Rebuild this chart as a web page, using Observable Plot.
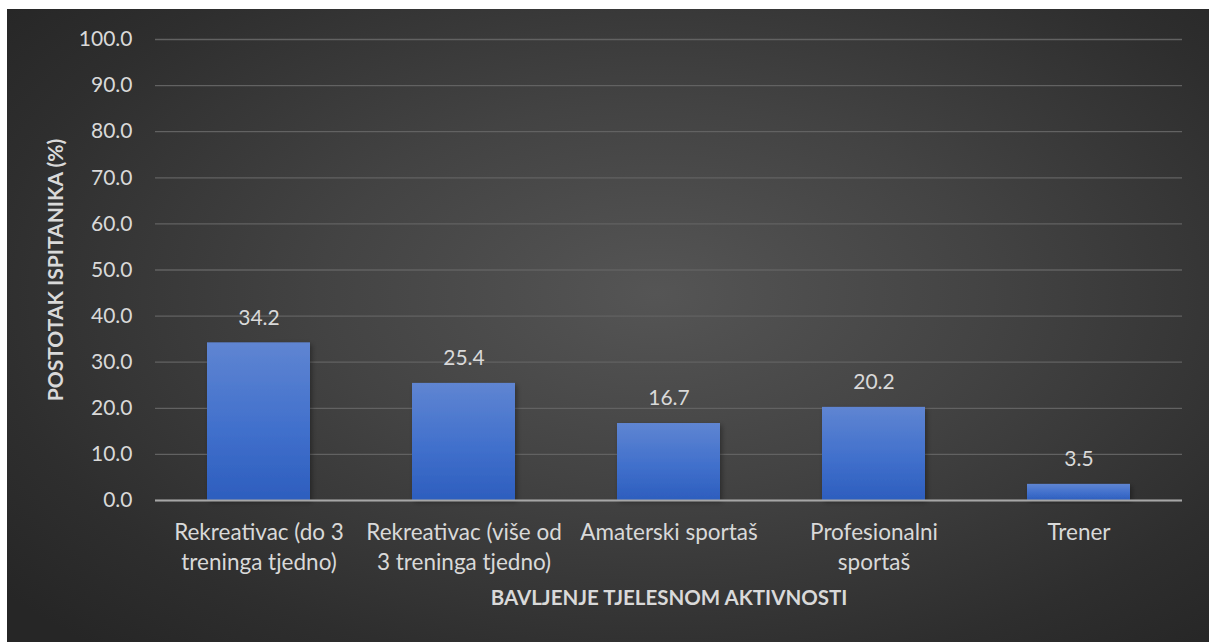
<!DOCTYPE html>
<html>
<head>
<meta charset="utf-8">
<script src="https://cdn.jsdelivr.net/npm/d3@7"></script>
<script src="https://cdn.jsdelivr.net/npm/@observablehq/plot@0.6"></script>
<style>
  html, body { margin: 0; padding: 0; background: #ffffff; }
  #wrap { position: relative; width: 1209px; height: 642px; overflow: hidden; }
  #bg { position: absolute; left: 7px; top: 9px; width: 1202px; height: 633px;
        background: radial-gradient(ellipse 70% 75% at 54% 45%, #555555 0%, #434343 40%, #2e2e2e 80%, #262626 100%); }
  #chart { position: absolute; left: 0; top: 0; }
</style>
</head>
<body>
<div id="wrap"><div id="bg"></div><div id="chart"></div></div>
<script>
const categories = [
  "Rekreativac (do 3 treninga tjedno)",
  "Rekreativac (više od 3 treninga tjedno)",
  "Amaterski sportaš",
  "Profesionalni sportaš",
  "Trener"
];
const tickLabels = [
  "Rekreativac (do 3\ntreninga tjedno)",
  "Rekreativac (više od\n3 treninga tjedno)",
  "Amaterski sportaš",
  "Profesionalni\nsportaš",
  "Trener"
];
const values = [34.2, 25.4, 16.7, 20.2, 3.5];
const yTicks = [0, 10, 20, 30, 40, 50, 60, 70, 80, 90, 100];
const yTitle = "POSTOTAK ISPITANIKA (%)";
const xTitle = "BAVLJENJE TJELESNOM AKTIVNOSTI";

const data = categories.map((c, i) => ({category: c, value: values[i]}));
const labelOf = new Map(categories.map((c, i) => [c, tickLabels[i]]));

const textColor = "#d9d9d9";
const font = "Lato, 'Open Sans', sans-serif";

const svg = Plot.plot({
  width: 1209,
  height: 642,
  marginLeft: 155,
  marginRight: 27,
  marginTop: 39,
  marginBottom: 142,
  style: {background: "transparent", fontFamily: font, fontSize: "21px", color: textColor},
  x: {domain: categories, paddingInner: 0.5, paddingOuter: 0.25, align: 0.5},
  y: {domain: [0, 100]},
  marks: [
    Plot.gridY(yTicks, {stroke: "#626262", strokeOpacity: 1, strokeWidth: 1.3}),
    Plot.axisY(yTicks, {tickSize: 0, tickPadding: 23, tickFormat: d => d.toFixed(1), fontSize: 21, fill: textColor, label: null}),
    Plot.barY(data, {x: "category", y: "value", fill: "url(#barGrad)"}),
    Plot.ruleY([0], {stroke: "#a6a6a6", strokeWidth: 2.2}),
    Plot.axisX({tickSize: 0, tickPadding: 19, tickFormat: d => labelOf.get(d), fontSize: 22.5, lineHeight: 1.3, fill: textColor, label: null, textAnchor: "middle"}),
    Plot.text(data, {x: "category", y: "value", text: d => d.value.toFixed(1), dy: -25, fontSize: 21, fill: textColor}),
    Plot.text([yTitle], {frameAnchor: "left", dx: -99, rotate: -90, textAnchor: "middle", lineAnchor: "middle", fontSize: 21, fontWeight: "bold", fill: textColor}),
    Plot.text([xTitle], {frameAnchor: "bottom", dy: 98, textAnchor: "middle", lineAnchor: "middle", fontSize: 20.5, fontWeight: "bold", fill: textColor})
  ]
});

const s = d3.select(svg);
s.selectAll("g[aria-label='y-axis tick label']").attr("font-size", 21);
s.selectAll("g[aria-label='x-axis tick label']").attr("font-size", 22.5);
const defs = s.insert("defs", ":first-child");
const g = defs.append("linearGradient").attr("id", "barGrad").attr("x1", 0).attr("y1", 0).attr("x2", 0).attr("y2", 1);
g.append("stop").attr("offset", "0%").attr("stop-color", "#5f85d2");
g.append("stop").attr("offset", "55%").attr("stop-color", "#4170cc");
g.append("stop").attr("offset", "100%").attr("stop-color", "#2d5ebe");
const f = defs.append("filter").attr("id", "shadow").attr("x", "-10%").attr("y", "-10%").attr("width", "130%").attr("height", "130%");
f.append("feDropShadow").attr("dx", 2).attr("dy", 2).attr("stdDeviation", 2.5).attr("flood-color", "#000").attr("flood-opacity", 0.35);
s.selectAll("g[aria-label='bar'] rect").attr("filter", "url(#shadow)");

document.getElementById("chart").appendChild(svg);
</script>
</body>
</html>
